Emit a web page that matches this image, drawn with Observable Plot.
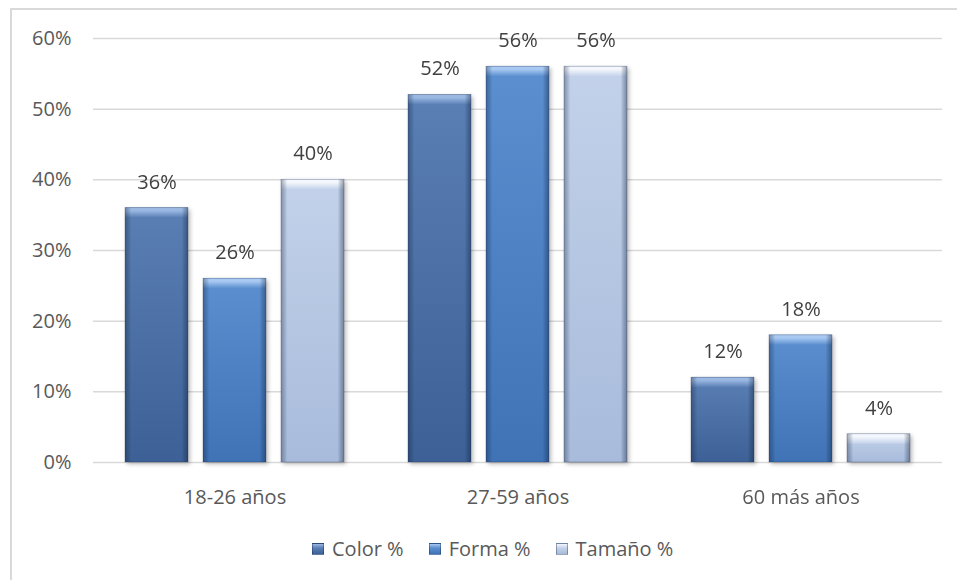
<!DOCTYPE html>
<html>
<head>
<meta charset="utf-8">
<script src="https://cdn.jsdelivr.net/npm/d3@7"></script>
<script src="https://cdn.jsdelivr.net/npm/@observablehq/plot@0.6"></script>
<style>
  html, body { margin: 0; padding: 0; background: #fff; overflow: hidden; }
  #frame { position: absolute; left: 10px; top: 8px; width: 1000px; height: 1000px;
           border-top: 2px solid #d9d9d9; border-left: 2px solid #d9d9d9; box-sizing: border-box; }
  #chart { position: absolute; left: 0; top: 0; }
  #legend { position: absolute; left: 312px; top: 535px; display: flex; align-items: center;
            font-family: "Open Sans", sans-serif; font-size: 20px; color: #595959; }
  .item { display: flex; align-items: center; margin-right: 25px; }
  .swatch { width: 12px; height: 12px; margin-right: 8px; box-sizing: border-box; }
</style>
</head>
<body>
<div id="frame"></div>
<div id="chart"></div>
<div id="legend"></div>
<script>
// Age groups and the three measured attributes
const groups = ["18-26 años", "27-59 años", "60 más años"];
const series = ["Color %", "Forma %", "Tamaño %"];
const colorValues = [0.36, 0.52, 0.12];
const formaValues = [0.26, 0.56, 0.18];
const tamanoValues = [0.40, 0.56, 0.04];
const yTicks = [0, 0.1, 0.2, 0.3, 0.4, 0.5, 0.6];

// Palette per series: top bevel, body top, body bottom
const palette = [
  {top: "#9ab8e2", hi: "#5a7fb5", lo: "#3d6196"},
  {top: "#a8c9f2", hi: "#5b8fd0", lo: "#3f73b6"},
  {top: "#f4f7fd", hi: "#c3d2ea", lo: "#a8bbdb"}
];

const valuesBySeries = [colorValues, formaValues, tamanoValues];
const rows = series.map((s, i) =>
  groups.map((g, j) => ({group: g, series: s, value: valuesBySeries[i][j]}))
);
const allRows = rows.flat();
const pct = d3.format(".0%");

const marks = [];
// Horizontal gridlines, repeated in each group panel
for (const g of groups) {
  marks.push(Plot.ruleY(yTicks.map(t => ({group: g, t})), {fx: "group", y: "t", stroke: "#d9d9d9", strokeWidth: 1.5}));
}

// Beveled bars: shaded body, light top bevel, darker side edges
series.forEach((s, i) => {
  const data = rows[i];
  marks.push(Plot.barY(data, {fx: "group", x: "series", y: "value", fill: `url(#body-${i})`, ariaDescription: "bar-body"}));
  marks.push(Plot.barY(data, {fx: "group", x: "series", y1: "value", y2: "value", insetBottom: -10, fill: `url(#top-${i})`}));
  marks.push(Plot.barY(data, {fx: "group", x: "series", y: "value", fill: "url(#sides)", stroke: "#1c3154", strokeOpacity: 0.35, strokeWidth: 0.8}));
});

marks.push(Plot.text(allRows, {fx: "group", x: "series", y: "value", text: d => pct(d.value), dy: -26, fill: "#404040", fontSize: 20}));
marks.push(Plot.axisY(yTicks, {tickSize: 0, tickPadding: 22, tickFormat: pct}));
marks.push(Plot.axisFx({anchor: "bottom", tickSize: 0, tickPadding: 27}));

const chart = Plot.plot({
  width: 957,
  height: 520,
  marginLeft: 92,
  marginRight: 15,
  marginTop: 38,
  marginBottom: 58,
  style: {fontFamily: "Open Sans, sans-serif", fontSize: "20px", color: "#595959", background: "transparent", overflow: "visible"},
  fx: {domain: groups, paddingInner: 0, paddingOuter: 0, label: null},
  x: {domain: series, paddingInner: 0.195, paddingOuter: 0.41, axis: null},
  y: {domain: [0, 0.6], axis: null},
  marks
});

// Gradient definitions for the beveled bars
const svg = d3.select(chart.tagName.toLowerCase() === "svg" ? chart : chart.querySelector("svg"));
const defs = svg.insert("defs", ":first-child");
palette.forEach((p, i) => {
  const body = defs.append("linearGradient").attr("id", `body-${i}`).attr("x1", 0).attr("y1", 0).attr("x2", 0).attr("y2", 1);
  body.append("stop").attr("offset", 0).attr("stop-color", p.hi);
  body.append("stop").attr("offset", 1).attr("stop-color", p.lo);
  const top = defs.append("linearGradient").attr("id", `top-${i}`).attr("x1", 0).attr("y1", 0).attr("x2", 0).attr("y2", 1);
  top.append("stop").attr("offset", 0).attr("stop-color", p.top);
  top.append("stop").attr("offset", 0.3).attr("stop-color", p.top);
  top.append("stop").attr("offset", 1).attr("stop-color", p.hi);
});
const sides = defs.append("linearGradient").attr("id", "sides").attr("x1", 0).attr("y1", 0).attr("x2", 1).attr("y2", 0);
[[0, 0.35], [0.06, 0.15], [0.1, 0], [0.9, 0], [0.94, 0.18], [1, 0.4]].forEach(([o, a]) =>
  sides.append("stop").attr("offset", o).attr("stop-color", "#0a1a33").attr("stop-opacity", a)
);
svg.selectAll('[aria-description="bar-body"]').style("filter", "drop-shadow(2px 2px 2px rgba(0,0,0,0.28))");

document.getElementById("chart").appendChild(chart);

// Legend below the chart
const legend = d3.select("#legend");
series.forEach((s, i) => {
  const item = legend.append("div").attr("class", "item");
  item.append("div").attr("class", "swatch")
    .style("background", `linear-gradient(${palette[i].top}, ${palette[i].hi} 40%, ${palette[i].lo})`)
    .style("border", "1px solid rgba(10,26,51,0.35)");
  item.append("span").text(s);
});
</script>
</body>
</html>
